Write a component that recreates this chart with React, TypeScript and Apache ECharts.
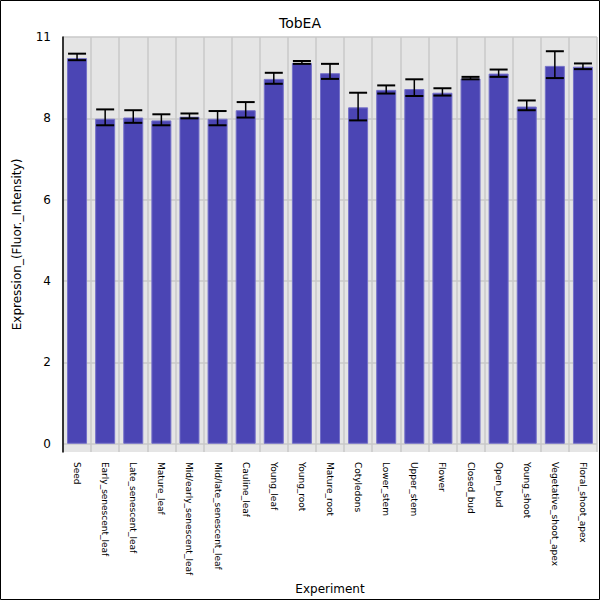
import { useEffect, useRef } from 'react';
import * as echarts from 'echarts';

const categories = ['Seed', 'Early_senescent_leaf', 'Late_senescent_leaf', 'Mature_leaf', 'Mid/early_senescent_leaf', 'Mid/late_senescent_leaf', 'Cauline_leaf', 'Young_leaf', 'Young_root', 'Mature_root', 'Cotyledons', 'Lower_stem', 'Upper_stem', 'Flower', 'Closed_bud', 'Open_bud', 'Young_shoot', 'Vegetative_shoot_apex', 'Floral_shoot_apex'];
const values = [9.48, 7.99, 8.02, 7.95, 8.04, 7.99, 8.2, 8.97, 9.36, 9.11, 8.27, 8.7, 8.72, 8.63, 8.98, 9.1, 8.29, 9.29, 9.27];
const errLow = [9.43, 7.83, 7.89, 7.83, 8.0, 7.83, 8.02, 8.85, 9.34, 8.97, 7.95, 8.61, 8.55, 8.56, 8.96, 9.02, 8.2, 8.99, 9.21];
const errHigh = [9.59, 8.22, 8.2, 8.1, 8.12, 8.18, 8.4, 9.12, 9.41, 9.34, 8.63, 8.81, 8.96, 8.74, 9.02, 9.2, 8.44, 9.65, 9.35];
const tickValues = [0, 2, 4, 6, 8, 10];

export default function App() {
  const chartRef = useRef<HTMLDivElement>(null);

  useEffect(() => {
    if (!chartRef.current) return;
    const chart = echarts.init(chartRef.current, null, { renderer: 'svg' });

    const option: any = {
      animation: false,
      backgroundColor: '#ffffff',
      textStyle: { fontFamily: 'DejaVu Sans' },
      title: {
        text: 'TobEA',
        left: 'center',
        top: 11,
        textStyle: { fontSize: 14, fontWeight: 'normal', color: '#000' },
      },
      graphic: [
        { type: 'rect', shape: { x: 0.5, y: 0.5, width: 599, height: 599 }, style: { fill: 'none', stroke: '#000', lineWidth: 1 }, silent: true },
      ],
      grid: { left: 63, right: 3, top: 37, bottom: 145, backgroundColor: '#e5e5e5', show: true, borderWidth: 0 },
      xAxis: {
        type: 'category',
        data: categories,
        name: 'Experiment',
        nameLocation: 'middle',
        nameGap: 130,
        nameTextStyle: { fontSize: 12, color: '#000' },
        axisLine: { show: false },
        axisTick: { show: false },
        axisLabel: { rotate: -90, fontSize: 9, color: '#000', interval: 0, margin: 10 },
        splitLine: { show: true, interval: 0, lineStyle: { color: '#c8c8c8', width: 1.5 } },
      },
      yAxis: {
        type: 'value',
        min: -0.2,
        max: 10,
        name: 'Expression_(Fluor._Intensity)',
        nameLocation: 'middle',
        nameGap: 40,
        nameTextStyle: { fontSize: 12, color: '#000' },
        axisLine: { show: true, lineStyle: { color: '#000', width: 1.5 } },
        axisTick: { show: false, customValues: tickValues },
        axisLabel: {
          customValues: tickValues,
          fontSize: 12,
          color: '#000',
          margin: 12,
          formatter: (v: number) => (v === 10 ? '11' : String(v)),
        },
        splitLine: { show: true, lineStyle: { color: '#c8c8c8', width: 1.5 } },
      },
      series: [
        {
          type: 'bar',
          data: values,
          barWidth: 20,
          itemStyle: { color: '#4b45b4', borderColor: '#7470c8', borderWidth: 1 },
        },
        {
          type: 'custom',
          data: categories.map((_, i) => [i, errLow[i], errHigh[i]]),
          z: 10,
          renderItem: (params: any, api: any) => {
            const x = api.value(0);
            const lo = api.coord([x, api.value(1)]);
            const hi = api.coord([x, api.value(2)]);
            const w = 9;
            const st = { stroke: '#000', lineWidth: 2 };
            return {
              type: 'group',
              children: [
                { type: 'line', shape: { x1: lo[0], y1: lo[1], x2: hi[0], y2: hi[1] }, style: { stroke: '#000', lineWidth: 1.5 } },
                { type: 'line', shape: { x1: lo[0] - w, y1: lo[1], x2: lo[0] + w, y2: lo[1] }, style: st },
                { type: 'line', shape: { x1: hi[0] - w, y1: hi[1], x2: hi[0] + w, y2: hi[1] }, style: st },
              ],
            };
          },
        },
      ],
    };

    chart.setOption(option);
    return () => chart.dispose();
  }, []);

  return <div ref={chartRef} style={{ position: 'absolute', left: 0, top: 0, width: 600, height: 600 }} />;
}
